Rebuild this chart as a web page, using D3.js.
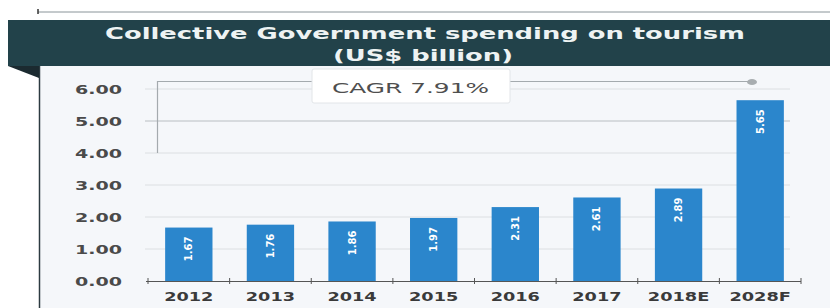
<!DOCTYPE html>
<html>
<head>
<meta charset="utf-8">
<script src="https://cdn.jsdelivr.net/npm/d3@7"></script>
<style>
  body { margin: 0; background: #fff; }
  svg { display: block; }
</style>
</head>
<body>
<div id="chart"></div>
<script>
// data
var years = ["2012", "2013", "2014", "2015", "2016", "2017", "2018E", "2028F"]
var spending = [1.67, 1.76, 1.86, 1.97, 2.31, 2.61, 2.89, 5.65]
var yTicks = [0, 1, 2, 3, 4, 5, 6]
var titleLines = ["Collective Government spending on tourism", "(US$ billion)"]
var cagrText = "CAGR 7.91%"

var W = 830, H = 308
var svg = d3.select("#chart").append("svg").attr("width", W).attr("height", H)

// thin rule at the very top
svg.append("line").attr("x1", 38).attr("x2", W).attr("y1", 12).attr("y2", 12)
    .style("stroke", "#8a9499").style("stroke-width", 1)
svg.append("line").attr("x1", 38).attr("x2", 38).attr("y1", 9).attr("y2", 14)
    .style("stroke", "#333").style("stroke-width", 1.5)

// panel
svg.append("rect").attr("x", 39).attr("y", 66).attr("width", W - 39).attr("height", H - 66)
    .style("fill", "#f5f7fa")
svg.append("line").attr("x1", 39.5).attr("x2", 39.5).attr("y1", 66).attr("y2", H)
    .style("stroke", "#2c3a40").style("stroke-width", 1.5)
svg.append("path").attr("d", "M8,66 L39,66 L39,78 Z").style("fill", "#1b2a30")

// header band
svg.append("rect").attr("x", 8).attr("y", 20).attr("width", W - 8).attr("height", 46)
    .style("fill", "#22424a")
svg.selectAll("text.title").data(titleLines).enter().append("text")
    .attr("class", "title")
    .attr("x", function(d, i) { return i == 0 ? 105 : 333 })
    .attr("y", function(d, i) { return 39 + i * 22 })
    .attr("textLength", function(d, i) { return i == 0 ? 640 : 180 })
    .attr("lengthAdjust", "spacingAndGlyphs")
    .style("font-family", "DejaVu Sans").style("font-weight", "bold")
    .style("font-size", "15px").style("fill", "#eef3f3")
    .text(function(d) { return d })

// scales
var x = d3.scaleBand().domain(years).range([148, 801]).paddingInner(0.42).paddingOuter(0.21)
var y = d3.scaleLinear().domain([0, 6]).range([281, 89])

// gridlines
svg.selectAll("line.grid").data(yTicks.filter(function(d) { return d > 0 })).enter().append("line")
    .attr("class", "grid")
    .attr("x1", 145).attr("x2", 790)
    .attr("y1", function(d) { return y(d) }).attr("y2", function(d) { return y(d) })
    .style("stroke", function(d) { return d == 5 ? "#b9bec2" : "#dcdfe2" })
    .style("stroke-width", 1)

// y labels
svg.selectAll("text.ylab").data(yTicks).enter().append("text")
    .attr("class", "ylab")
    .attr("x", 75).attr("y", function(d) { return y(d) + 4.5 })
    .attr("textLength", 47).attr("lengthAdjust", "spacingAndGlyphs")
    .style("font-family", "DejaVu Sans").style("font-weight", "bold")
    .style("font-size", "12px").style("fill", "#4a4a4a")
    .text(function(d) { return d3.format(".2f")(d) })

// CAGR bracket
var bx = 157.5, by = y(6) - 7.5
svg.append("path")
    .attr("d", "M" + bx + "," + y(4) + " L" + bx + "," + by + " L749," + by)
    .style("fill", "none").style("stroke", "#a4aaae").style("stroke-width", 1.2)
svg.append("ellipse").attr("cx", 752).attr("cy", by + 0.5).attr("rx", 5).attr("ry", 3)
    .style("fill", "#a8adb0")

svg.append("rect").attr("x", 312).attr("y", 69).attr("width", 198).attr("height", 34)
    .attr("rx", 2)
    .style("fill", "#ffffff").style("stroke", "#e2e5e8")
svg.append("text").attr("x", 332).attr("y", 93)
    .attr("textLength", 157).attr("lengthAdjust", "spacingAndGlyphs")
    .style("font-family", "DejaVu Sans").style("font-size", "14px").style("fill", "#4f4f4f")
    .text(cagrText)

// bars
svg.selectAll("rect.bar").data(spending).enter().append("rect")
    .attr("class", "bar")
    .attr("x", function(d, i) { return x(years[i]) })
    .attr("width", x.bandwidth())
    .attr("y", function(d) { return y(d) })
    .attr("height", function(d) { return y(0) - y(d) })
    .style("fill", "#2b86cc")

svg.selectAll("text.val").data(spending).enter().append("text")
    .attr("class", "val")
    .attr("transform", function(d, i) {
        return "translate(" + (x(years[i]) + x.bandwidth() / 2 + 3.5) + "," + (y(d) + 9) + ") rotate(-90)"
    })
    .attr("text-anchor", "end")
    .style("font-family", "DejaVu Sans").style("font-weight", "bold")
    .style("font-size", "10px").style("fill", "#ffffff")
    .text(function(d) { return d3.format(".2f")(d) })

// x axis
var xAxis = svg.append("g").attr("transform", "translate(0,281)")
xAxis.append("line").attr("x1", 146).attr("x2", 801).attr("y1", 0.5).attr("y2", 0.5)
    .style("stroke", "#555").style("stroke-width", 1)
var bounds = years.map(function(d) { return x(d) - x.step() * x.paddingInner() / 2 })
bounds.push(801)
bounds[0] = 148
xAxis.selectAll("line.tick").data(bounds).enter().append("line")
    .attr("class", "tick")
    .attr("x1", function(d) { return d }).attr("x2", function(d) { return d })
    .attr("y1", -3).attr("y2", 3)
    .style("stroke", "#555")
xAxis.selectAll("text").data(years).enter().append("text")
    .attr("x", function(d) { return x(d) + x.bandwidth() / 2 })
    .attr("y", 20)
    .attr("text-anchor", "middle")
    .attr("textLength", function(d) { return d.length * 12.3 })
    .attr("lengthAdjust", "spacingAndGlyphs")
    .style("font-family", "DejaVu Sans").style("font-weight", "bold")
    .style("font-size", "12px").style("fill", "#3a3a3a")
    .text(function(d) { return d })
</script>
</body>
</html>
